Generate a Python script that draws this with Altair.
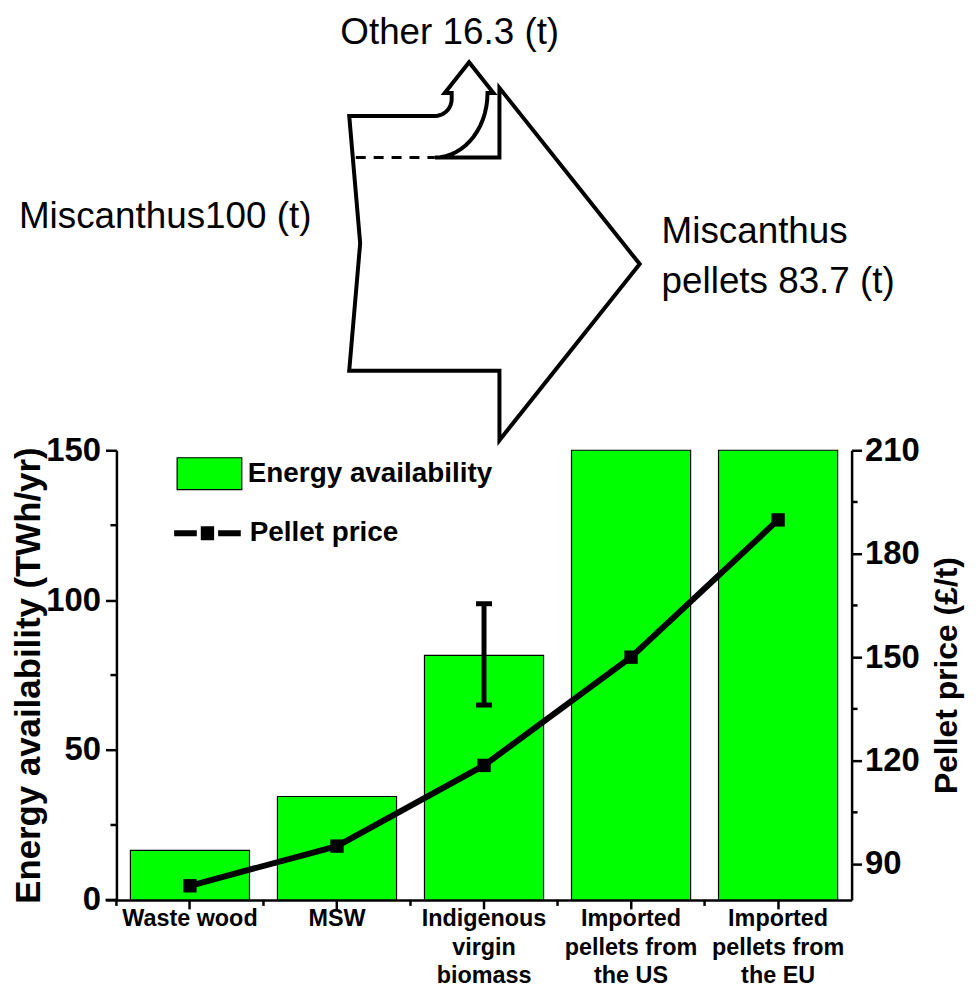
import altair as alt
import pandas as pd
import numpy as np

# ---------------- data ----------------
categories = ["Waste wood", "MSW", "Indigenous\nvirgin\nbiomass",
              "Imported\npellets from\nthe US", "Imported\npellets from\nthe EU"]
energy_twh = [16.5, 34.5, 81.6, 150, 150]
pellet_price = [83.7, 95.2, 118.6, 150.0, 189.8]
err_category = [categories[2]]
err_low = [65.0]
err_high = [98.8]
left_ticks = [0, 50, 100, 150]
left_minor = [25, 75, 125]
right_ticks = [90, 120, 150, 180, 210]
right_minor = [105, 135, 165, 195]

flow_in = 100
flow_other = 16.3
flow_pellets = 83.7

FONT = "Liberation Sans"
W = 739
H_TOP = 438
H_BOT = 452

# ---------------- diagram geometry (Sankey-like arrow) ----------------
K = 2.56                      # px per tonne of flow width
x_in, y_top = 234, 102        # top-left corner of the input flow
notch = 11
x_split, x_main, head_ext = 320, 385, 70
head_len = 141
y_other = y_top + flow_other * K
y_bot = y_top + flow_in * K
y_mid = (y_other + y_bot) / 2
shaft_top = y_top - 23
r_out = 17
rx_in = 53
ry_in = y_other - shaft_top
tip_x = x_split + 34.5

pts = []
for t in np.linspace(0, np.pi / 2, 16):
    pts.append((x_split + rx_in * np.sin(t), shaft_top + ry_in * np.cos(t)))
pts += [(x_split + rx_in + 6, shaft_top), (tip_x, shaft_top - 31),
        (x_split + 10, shaft_top), (x_split + r_out, shaft_top)]
for t in np.linspace(np.pi / 2, 0, 10):
    pts.append((x_split + r_out * np.sin(t), y_top - r_out + r_out * np.cos(t)))
pts += [(x_in, y_top), (x_in + notch, (y_top + y_bot) / 2), (x_in, y_bot),
        (x_main, y_bot), (x_main, y_bot + head_ext), (x_main + head_len, y_mid),
        (x_main, y_other - head_ext), (x_main, y_other), (x_split, y_other)]
outline_df = pd.DataFrame({"x": [p[0] for p in pts], "y": [p[1] for p in pts],
                           "o": list(range(len(pts)))})
dash_df = pd.DataFrame({"x": [x_in + notch * flow_other / 50 + 3, x_split],
                        "y": [y_other, y_other], "o": [0, 1]})

xs = alt.Scale(domain=[0, W], nice=False, zero=False)
ys = alt.Scale(domain=[0, H_TOP], nice=False, zero=False, reverse=True)
X = alt.X("x:Q", scale=xs, axis=None)
Y = alt.Y("y:Q", scale=ys, axis=None)

outline = alt.Chart(outline_df).mark_line(
    color="black", strokeWidth=4, strokeJoin="miter", strokeMiterLimit=20
).encode(x=X, y=Y, order="o:Q")
dashed = alt.Chart(dash_df).mark_line(
    color="black", strokeWidth=3, strokeDash=[10, 8]
).encode(x=X, y=Y, order="o:Q")

lab_other = alt.Chart(pd.DataFrame({"x": [x_split + 15], "y": [30],
                                    "t": [f"Other {flow_other} (t)"]})).mark_text(
    font=FONT, fontSize=37, align="center", baseline="alphabetic", color="black"
).encode(x=X, y=Y, text="t:N")
lab_in = alt.Chart(pd.DataFrame({"x": [x_in - 38], "y": [(y_top + y_bot) / 2 - 15],
                                 "t": [f"Miscanthus{flow_in} (t)"]})).mark_text(
    font=FONT, fontSize=37, align="right", baseline="alphabetic", color="black"
).encode(x=X, y=Y, text="t:N")
lab_out = alt.Chart(pd.DataFrame({"x": [x_main + head_len + 22], "y": [y_mid - 21],
                                  "t": [f"Miscanthus\npellets {flow_pellets} (t)"]})).mark_text(
    font=FONT, fontSize=37, align="left", baseline="alphabetic", color="black",
    lineBreak="\n", lineHeight=50
).encode(x=X, y=Y, text="t:N")

top = alt.layer(outline, dashed, lab_other, lab_in, lab_out).properties(width=W, height=H_TOP)

# ---------------- bar + line chart ----------------
df = pd.DataFrame({"cat": categories, "energy": energy_twh, "price": pellet_price})
err_df = pd.DataFrame({"cat": err_category, "lo": err_low, "hi": err_high})

xband = alt.Scale(domain=categories, paddingInner=0.19, paddingOuter=0.095)
yL = alt.Scale(domain=[0, 150], nice=False, zero=True)
yR = alt.Scale(domain=[79.6, 210], nice=False, zero=False)

ax_common = dict(domainColor="black", domainWidth=2.5, tickColor="black", tickWidth=2.5,
                 labelFont=FONT, labelFontWeight="bold", labelColor="black",
                 titleFont=FONT, titleFontWeight="bold", titleColor="black", grid=False)

xaxis = alt.Axis(title=None, labelAngle=0, labelFontSize=23.5, labelLineHeight=28.5,
                 labelExpr="split(datum.label, '\\n')", labelBaseline="top",
                 tickSize=9, labelPadding=-2, **ax_common)
XC = alt.X("cat:N", scale=xband, sort=categories, axis=xaxis)

leg_common = dict(orient="none", title=None, labelFont=FONT, labelFontSize=28,
                  labelFontWeight="bold", labelColor="black", padding=0, labelLimit=500)

bars = alt.Chart(df).transform_calculate(series="'Energy availability'").mark_bar(
    stroke="black", strokeWidth=1.2
).encode(
    x=XC,
    y=alt.Y("energy:Q", scale=yL, axis=alt.Axis(
        title="Energy availability (TWh/yr)", values=left_ticks, tickSize=11,
        labelPadding=5, labelFontSize=33, titleFontSize=35, titlePadding=-1, **ax_common)),
    fill=alt.Fill("series:N", scale=alt.Scale(domain=["Energy availability"], range=["#00ff00"]),
                  legend=alt.Legend(legendX=60, legendY=H_TOP - 10,
                                    symbolType="M-1,-0.492H1V0.492H-1Z", symbolSize=4225,
                                    symbolStrokeColor="black", symbolStrokeWidth=1.2,
                                    labelOffset=5, **leg_common)),
)

err_rule = alt.Chart(err_df).mark_rule(color="black", strokeWidth=5).encode(
    x=XC, y=alt.Y("lo:Q", scale=yL), y2="hi:Q")
err_caps = alt.Chart(err_df).transform_fold(["lo", "hi"], as_=["k", "v"]).mark_tick(
    color="black", thickness=5, size=16, opacity=1).encode(x=XC, y=alt.Y("v:Q", scale=yL))

minorL = alt.Chart(pd.DataFrame({"v": left_minor})).mark_rule(color="black", strokeWidth=2.5).encode(
    y=alt.Y("v:Q", scale=yL), x=alt.value(-6), x2=alt.value(0))
minorX = alt.Chart(df).mark_rule(color="black", strokeWidth=2.5, xOffset=-W / 10).encode(
    x=XC, y=alt.value(H_BOT), y2=alt.value(H_BOT + 6))
axis_ext = alt.Chart(pd.DataFrame({"v": [0]})).mark_rule(color="black", strokeWidth=2.5).encode(
    y=alt.Y("v:Q", scale=yL), x=alt.value(-11), x2=alt.value(0))

line = alt.Chart(df).transform_calculate(series="'Pellet price'").mark_line(
    strokeWidth=6
).encode(
    x=XC,
    y=alt.Y("price:Q", scale=yR, axis=alt.Axis(
        title="Pellet price (£/t)", orient="right", values=right_ticks, tickSize=10,
        labelPadding=3, labelFontSize=33, titleFontSize=32, titlePadding=12,
        titleAngle=270, titleBaseline="top", **ax_common)),
    stroke=alt.Stroke("series:N", scale=alt.Scale(domain=["Pellet price"], range=["black"]),
                      legend=alt.Legend(legendX=55, legendY=H_TOP + 47,
                                        symbolType="M-1,0H-0.32M0.32,0H1M-0.2,-0.12H0.2M-0.2,0H0.2M-0.2,0.12H0.2",
                                        symbolSize=4489, symbolStrokeColor="black",
                                        symbolStrokeWidth=6, labelOffset=6, **leg_common)),
)
points = alt.Chart(df).mark_square(size=180, color="black", opacity=1).encode(
    x=XC, y=alt.Y("price:Q", scale=yR))
minorR = alt.Chart(pd.DataFrame({"v": right_minor})).mark_rule(color="black", strokeWidth=2.5).encode(
    y=alt.Y("v:Q", scale=yR), x=alt.value(W), x2=alt.value(W + 6))

left_layer = alt.layer(bars, err_rule, err_caps, minorL, minorX, axis_ext)
right_layer = alt.layer(line, points, minorR)
bottom = alt.layer(left_layer, right_layer).resolve_scale(y="independent").properties(
    width=W, height=H_BOT)

chart = alt.vconcat(top, bottom, spacing=0, bounds="flush").properties(
    padding={"left": 3, "top": 4, "right": 5, "bottom": 0}
).configure(font=FONT).configure_view(stroke=None)

chart.save("out.html", embed_options={"renderer": "svg", "actions": False})
